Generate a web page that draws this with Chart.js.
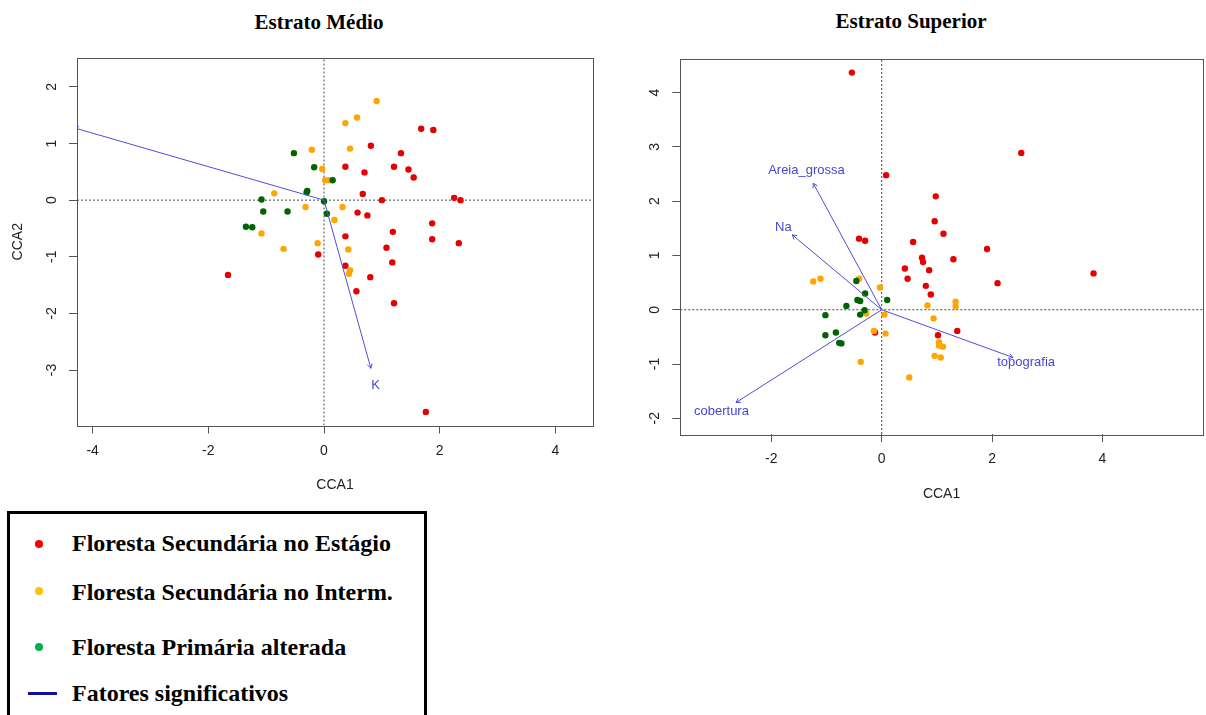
<!DOCTYPE html>
<html>
<head>
<meta charset="utf-8">
<script src="https://cdn.jsdelivr.net/npm/chart.js@4.4.1/dist/chart.umd.min.js"></script>
<style>
  html, body { margin: 0; padding: 0; background: #fff; }
  body { width: 1206px; height: 715px; position: relative; overflow: hidden; }
  .ttl { position: absolute; font-family: 'Liberation Serif', 'Times New Roman', serif; font-weight: bold;
         font-size: 21px; line-height: 1; color: #000; white-space: nowrap; transform: translate(-50%, -50%); }
  #c1 { position: absolute; left: 0; top: 0; }
  #c2 { position: absolute; left: 600px; top: 0; }
  #legend { position: absolute; left: 7px; top: 511px; width: 420px; height: 240px; border: 3px solid #000; box-sizing: border-box; }
  .lt { position: absolute; left: 72px; font-family: 'Liberation Serif', 'Times New Roman', serif; font-weight: bold;
        font-size: 24px; line-height: 24px; height: 24px; color: #000; white-space: nowrap; }
  .dot { position: absolute; width: 8px; height: 8px; border-radius: 50%; }
  .lline { position: absolute; left: 28px; width: 29px; height: 3px; background: #1010a0; }
</style>
</head>
<body>
<div class="ttl" style="left:319px; top:22px;">Estrato Médio</div>
<div class="ttl" style="left:911px; top:21px;">Estrato Superior</div>
<canvas id="c1" width="600" height="500"></canvas>
<canvas id="c2" width="606" height="510"></canvas>

<div id="legend"></div>
<div class="dot" style="left:35px; top:540px; background:#ff0000;"></div>
<div class="lt" style="top:531px;">Floresta Secundária no Estágio</div>
<div class="dot" style="left:35px; top:587px; background:#ffc000;"></div>
<div class="lt" style="top:580px;">Floresta Secundária no Interm.</div>
<div class="dot" style="left:35px; top:643px; background:#00b050;"></div>
<div class="lt" style="top:635px;">Floresta Primária alterada</div>
<div class="lline" style="top:692px;"></div>
<div class="lt" style="top:681px;">Fatores significativos</div>

<script>
// ---------- DATA ----------
// Estrato Médio (CCA1, CCA2)
const medioEstagio = [[1.68,1.26],[1.89,1.24],[0.81,0.96],[1.33,0.83],[0.37,0.59],[1.21,0.59],[0.70,0.49],[1.46,0.54],
  [1.55,0.40],[0.67,0.11],[1.00,0.00],[2.25,0.04],[2.36,0.00],[0.58,-0.22],[0.75,-0.27],[1.87,-0.41],[1.19,-0.56],
  [0.37,-0.64],[1.87,-0.69],[2.33,-0.76],[1.08,-0.84],[-0.10,-0.96],[1.18,-1.10],[0.37,-1.16],[-1.66,-1.32],
  [0.80,-1.36],[0.56,-1.61],[1.21,-1.82],[1.76,-3.74]];
const medioInterm = [[0.91,1.75],[0.37,1.36],[0.57,1.46],[-0.21,0.89],[0.45,0.91],[-0.03,0.55],[0.02,0.35],[0.09,0.35],
  [-0.86,0.12],[-0.32,-0.12],[0.32,-0.12],[0.18,-0.35],[-1.08,-0.59],[-0.11,-0.76],[-0.70,-0.86],[0.42,-0.87],
  [0.45,-1.24],[0.43,-1.30]];
const medioPrimaria = [[-0.52,0.83],[-0.17,0.58],[0.15,0.35],[-0.29,0.16],[-0.30,0.14],[-1.08,0.01],[0.00,-0.02],
  [-1.05,-0.20],[-0.63,-0.20],[0.05,-0.24],[-1.35,-0.47],[-1.24,-0.48]];
const medioVetores = ['', 'K'];
const medioVetorX = [-4.32, 0.81];
const medioVetorY = [1.277, -2.97];
const medioEixoX = [-4.27, 4.65];
const medioEixoY = [-3.98, 2.51];
const medioTicksX = [-4, -2, 0, 2, 4];
const medioTicksY = [-3, -2, -1, 0, 1, 2];

// Estrato Superior
const superiorEstagio = [[-0.54,4.37],[2.53,2.89],[0.08,2.48],[0.98,2.09],[0.96,1.63],[1.12,1.40],[-0.41,1.31],
  [-0.30,1.27],[0.57,1.25],[1.91,1.12],[0.73,0.96],[0.75,0.88],[1.30,0.93],[0.42,0.76],[0.86,0.73],[3.84,0.67],
  [0.47,0.57],[2.10,0.49],[0.80,0.44],[0.89,0.28],[1.37,-0.39],[1.02,-0.47],[-0.12,-0.42]];
const superiorInterm = [[-1.24,0.52],[-1.11,0.57],[-0.41,0.57],[-0.03,0.41],[1.34,0.15],[1.34,0.06],[0.83,0.08],
  [-0.28,-0.07],[0.05,-0.09],[0.94,-0.16],[-0.14,-0.39],[0.07,-0.44],[1.04,-0.60],[1.04,-0.66],[1.11,-0.68],
  [0.96,-0.85],[1.07,-0.88],[-0.38,-0.96],[0.50,-1.25]];
const superiorPrimaria = [[-0.46,0.53],[-0.30,0.30],[-0.44,0.18],[-0.39,0.16],[0.10,0.18],[-0.64,0.07],[-0.31,-0.01],
  [-0.39,-0.09],[-1.02,-0.10],[-1.02,-0.47],[-0.83,-0.42],[-0.77,-0.61],[-0.73,-0.62]];
const superiorVetores = ['Areia_grossa', 'Na', 'cobertura', 'topografia'];
const superiorVetorX = [-1.24, -1.62, -2.64, 2.38];
const superiorVetorY = [2.33, 1.38, -1.71, -0.88];
const superiorEixoX = [-3.65, 5.82];
const superiorEixoY = [-2.29, 4.63];
const superiorTicksX = [-2, 0, 2, 4];
const superiorTicksY = [-2, -1, 0, 1, 2, 3, 4];

// ---------- STYLE ----------
const SANS = "'Liberation Sans', Arial, sans-serif";
const COR_ESTAGIO = '#e60000';
const COR_INTERM = '#ffa500';
const COR_PRIMARIA = '#006400';
const COR_VETOR = '#4f4fd8';
const COR_ROTULO = '#4646d4';
const COR_EIXO = '#555555';
const COR_TEXTO = '#222222';

function pts(arr) { return arr.map(p => ({ x: p[0], y: p[1] })); }

function vectorPlugin(names, xs, ys) {
  return {
    id: 'vectors',
    afterDatasetsDraw(chart) {
      const { ctx, chartArea: a, scales: { x, y } } = chart;
      ctx.save();
      ctx.beginPath();
      ctx.rect(a.left, a.top, a.right - a.left, a.bottom - a.top);
      ctx.clip();
      ctx.strokeStyle = COR_VETOR;
      ctx.lineWidth = 1;
      ctx.fillStyle = COR_ROTULO;
      ctx.font = '13px ' + SANS;
      ctx.textAlign = 'center';
      ctx.textBaseline = 'middle';
      const x0 = x.getPixelForValue(0), y0 = y.getPixelForValue(0);
      names.forEach((n, i) => {
        const x1 = x.getPixelForValue(xs[i]), y1 = y.getPixelForValue(ys[i]);
        const ang = Math.atan2(y1 - y0, x1 - x0);
        const L = 5, h = Math.PI / 6;
        ctx.beginPath();
        ctx.moveTo(x1 - L * Math.cos(ang - h), y1 - L * Math.sin(ang - h));
        ctx.lineTo(x1, y1);
        ctx.lineTo(x1 - L * Math.cos(ang + h), y1 - L * Math.sin(ang + h));
        ctx.stroke();
        if (n) ctx.fillText(n, x.getPixelForValue(xs[i] * 1.1), y.getPixelForValue(ys[i] * 1.1));
      });
      ctx.restore();
      ctx.save();
      ctx.strokeStyle = COR_EIXO;
      ctx.lineWidth = 1;
      ctx.strokeRect(Math.round(a.left) + 0.5, Math.round(a.top) + 0.5,
                     Math.round(a.right - a.left), Math.round(a.bottom - a.top));
      ctx.restore();
    }
  };
}

function buildChart(canvas, c) {
  const datasets = [];
  c.vx.forEach((vx, i) => {
    datasets.push({ data: [{ x: 0, y: 0 }, { x: vx, y: c.vy[i] }], showLine: true, borderColor: COR_VETOR,
      borderWidth: 1, pointRadius: 0, fill: false });
  });
  const dot = (data, color) => ({ data: pts(data), backgroundColor: color, borderWidth: 0,
    pointRadius: 3.2, pointHoverRadius: 3.2, showLine: false });
  datasets.push(dot(c.primaria, COR_PRIMARIA));
  datasets.push(dot(c.interm, COR_INTERM));
  datasets.push(dot(c.estagio, COR_ESTAGIO));
  datasets.push({ data: [{ x: c.ex[0], y: 0 }, { x: c.ex[1], y: 0 }], showLine: true, borderColor: '#444',
    borderWidth: 1, borderDash: [2, 2], pointRadius: 0, fill: false });
  datasets.push({ data: [{ x: 0, y: c.ey[0] }, { x: 0, y: c.ey[1] }], showLine: true, borderColor: '#444',
    borderWidth: 1, borderDash: [2, 2], pointRadius: 0, fill: false });

  const grid = { display: true, drawOnChartArea: false, drawTicks: true, tickLength: 8,
    tickColor: COR_EIXO, tickWidth: 1, color: COR_EIXO };

  return new Chart(canvas, {
    type: 'scatter',
    data: { datasets },
    options: {
      responsive: false,
      animation: false,
      events: [],
      layout: { padding: c.padding },
      plugins: { legend: { display: false }, tooltip: { enabled: false }, title: { display: false } },
      scales: {
        x: {
          type: 'linear', position: 'bottom', min: c.ex[0], max: c.ex[1],
          afterBuildTicks: s => { s.ticks = c.tx.map(v => ({ value: v })); },
          afterFit: s => { s.height = c.xh; },
          grid, border: { display: false },
          ticks: { font: { family: SANS, size: 14 }, color: COR_TEXTO, padding: 9, maxRotation: 0,
            autoSkip: false, callback: v => String(v) },
          title: { display: true, text: 'CCA1', font: { family: SANS, size: 14 }, color: COR_TEXTO,
            padding: { top: 0, bottom: c.xtp } }
        },
        y: {
          type: 'linear', position: 'left', min: c.ey[0], max: c.ey[1],
          afterBuildTicks: s => { s.ticks = c.ty.map(v => ({ value: v })); },
          afterFit: s => { s.width = c.yw; },
          grid, border: { display: false },
          ticks: { font: { family: SANS, size: 14 }, color: COR_TEXTO, padding: 11, minRotation: 90, maxRotation: 90,
            crossAlign: 'center', autoSkip: false, callback: v => String(v) },
          title: { display: !!c.ytitle, text: c.ytitle || '', font: { family: SANS, size: 14 }, color: COR_TEXTO,
            padding: { top: 9.6, bottom: 0 } }
        }
      }
    },
    plugins: [vectorPlugin(c.names, c.vx, c.vy)]
  });
}

buildChart(document.getElementById('c1'), {
  estagio: medioEstagio, interm: medioInterm, primaria: medioPrimaria,
  names: medioVetores, vx: medioVetorX, vy: medioVetorY,
  ex: medioEixoX, ey: medioEixoY, tx: medioTicksX, ty: medioTicksY,
  padding: { left: 0, top: 58, right: 7, bottom: 0 }, yw: 77, xh: 74.5, xtp: 6.6, ytitle: 'CCA2'
});
buildChart(document.getElementById('c2'), {
  estagio: superiorEstagio, interm: superiorInterm, primaria: superiorPrimaria,
  names: superiorVetores, vx: superiorVetorX, vy: superiorVetorY,
  ex: superiorEixoX, ey: superiorEixoY, tx: superiorTicksX, ty: superiorTicksY,
  padding: { left: 0, top: 58.5, right: 0.5, bottom: 0 }, yw: 80.3, xh: 76, xtp: 7.6, ytitle: ''
});
</script>
</body>
</html>
